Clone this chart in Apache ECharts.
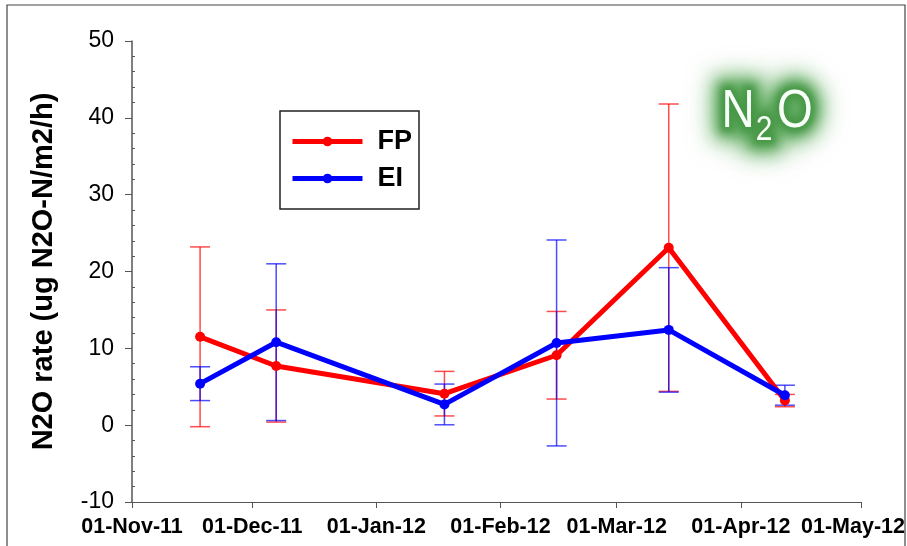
<!DOCTYPE html>
<html>
<head>
<meta charset="utf-8">
<script src="https://cdn.jsdelivr.net/npm/echarts@6/dist/echarts.min.js"></script>
<style>html,body{margin:0;padding:0;background:#fff;}#c{width:907px;height:546px;}</style>
</head>
<body>
<div id="c"></div>
<script>
// ---- data ----
const sampleDates = ['2011-11-18', '2011-12-07', '2012-01-18', '2012-02-15', '2012-03-14', '2012-04-12'];
const fpMean = [11.5, 7.7, 4.1, 9.1, 23.1, 3.2];
const fpErr  = [11.7, 7.3, 2.9, 5.7, 18.7, 0.8];
const eiMean = [5.4, 10.8, 2.7, 10.7, 12.4, 3.9];
const eiErr  = [2.2, 10.2, 2.65, 13.4, 8.1, 1.3];
const xTickLabels = ['01-Nov-11', '01-Dec-11', '01-Jan-12', '01-Feb-12', '01-Mar-12', '01-Apr-12', '01-May-12'];
const yTicks = [-10, 0, 10, 20, 30, 40, 50];

const FONT = 'Liberation Sans, Arial, sans-serif';
const RED = '#ff0000', BLUE = '#0000ff';

function lineData(means) { return sampleDates.map((d, i) => [d, means[i]]); }
function errData(means, errs) { return sampleDates.map((d, i) => [d, means[i] - errs[i], means[i] + errs[i]]); }

function errRender(color) {
  return function (params, api) {
    const x = api.value(0);
    const lo = api.coord([x, api.value(1)]);
    const hi = api.coord([x, api.value(2)]);
    const w = 10;
    const st = { stroke: color, lineWidth: 1.5, opacity: 0.7 };
    return {
      type: 'group',
      children: [
        { type: 'line', shape: { x1: hi[0], y1: hi[1], x2: lo[0], y2: lo[1] }, style: st },
        { type: 'line', shape: { x1: hi[0] - w, y1: hi[1], x2: hi[0] + w, y2: hi[1] }, style: st },
        { type: 'line', shape: { x1: lo[0] - w, y1: lo[1], x2: lo[0] + w, y2: lo[1] }, style: st }
      ]
    };
  };
}

const chart = echarts.init(document.getElementById('c'), null, { renderer: 'canvas' });

// soft glow: text drawn far off-canvas, only its blurred shadow lands on the title spot
const SHIFT = 2000;
function n2oGlow(txt, x, y, size, color, lw, blur) {
  return {
    type: 'text', x: x - SHIFT, y: y, scaleY: 1.15, silent: true,
    style: {
      text: txt, font: size + 'px ' + FONT, textAlign: 'center', textVerticalAlign: 'middle',
      fill: color, stroke: color, lineWidth: lw, lineJoin: 'round',
      textShadowBlur: blur, textShadowColor: color, textShadowOffsetX: SHIFT, textShadowOffsetY: 0
    }
  };
}
function n2oText(txt, x, y, size) {
  return {
    type: 'text', x: x, y: y, scaleY: 1.15, silent: true,
    style: { text: txt, font: size + 'px ' + FONT, textAlign: 'center', textVerticalAlign: 'middle', fill: '#f8fff8' }
  };
}
const n2oParts = [['N', 738, 112, 46], ['2', 764, 130, 30], ['O', 795, 112, 46]];
const glowLayers = [
  ['rgba(95,175,95,0.85)', 26, 24],
  ['rgba(80,160,80,0.9)', 16, 14],
  ['rgba(70,150,70,0.9)', 8, 6]
];
const glowEls = [];
glowLayers.forEach(g => n2oParts.forEach(p => glowEls.push(n2oGlow(p[0], p[1], p[2], p[3], g[0], g[1], g[2]))));
n2oParts.forEach(p => glowEls.push(n2oText(p[0], p[1], p[2], p[3])));

chart.setOption({
  animation: false,
  backgroundColor: '#ffffff',
  grid: { left: 132, top: 41, right: 46, bottom: 44, containLabel: false, outerBoundsMode: 'none' },
  xAxis: {
    type: 'time',
    min: '2011-11-01',
    max: '2012-05-01',
    splitNumber: 6,
    axisLine: { onZero: false, lineStyle: { color: '#555', width: 1.2 } },
    axisTick: { show: true, length: 6, lineStyle: { color: '#555' } },
    splitLine: { show: false },
    axisLabel: {
      margin: 14,
      color: '#000',
      fontFamily: FONT,
      fontWeight: 'bold',
      fontSize: 21.5,
      showMinLabel: true,
      showMaxLabel: true,
      hideOverlap: false,
      rich: {
        last: { fontFamily: FONT, fontWeight: 'bold', fontSize: 21.5, color: '#000', padding: [0, 16, 0, 0] }
      },
      formatter: function (v) {
        const d = new Date(v);
        const idx = (d.getFullYear() - 2011) * 12 + d.getMonth() - 10;
        const s = xTickLabels[idx] || '';
        return idx === xTickLabels.length - 1 ? '{last|' + s + '}' : s;
      }
    }
  },
  yAxis: [
    {
      type: 'value', position: 'left',
      min: yTicks[0], max: yTicks[yTicks.length - 1], interval: 10,
      name: 'N2O rate (ug N2O-N/m2/h)',
      nameLocation: 'middle',
      nameGap: 74,
      nameRotate: 90,
      nameTextStyle: { color: '#000', fontFamily: FONT, fontWeight: 'bold', fontSize: 29 },
      axisLine: { show: true, lineStyle: { color: '#555', width: 1.5 } },
      axisTick: { show: true, length: 7, lineStyle: { color: '#555' } },
      splitLine: { show: false },
      axisLabel: { margin: 18, color: '#000', fontFamily: FONT, fontSize: 23 }
    },
    {
      type: 'value', position: 'left', offset: 0,
      min: yTicks[0], max: yTicks[yTicks.length - 1], interval: 10,
      axisLine: { show: false },
      axisTick: { show: false, inside: true },
      minorTick: { show: true, splitNumber: 5, length: 3, lineStyle: { color: '#555' } },
      axisLabel: { show: false },
      splitLine: { show: false }
    }
  ],
  legend: {
    left: 280, top: 111,
    orient: 'vertical',
    data: ['FP', 'EI'],
    itemWidth: 70, itemHeight: 12,
    itemGap: 10,
    padding: [17, 7, 17, 10],
    borderColor: '#222', borderWidth: 1.5,
    backgroundColor: '#fff',
    lineStyle: { width: 5 },
    textStyle: { color: '#000', fontFamily: FONT, fontWeight: 'bold', fontSize: 27, padding: [0, 0, 0, 10] }
  },
  graphic: [
    { type: 'rect', shape: { x: 7, y: 5, width: 898, height: 600 }, style: { fill: 'none', stroke: '#444', lineWidth: 1.2 }, silent: true }
  ].concat(glowEls),
  series: [
    {
      type: 'custom', name: 'FP err', renderItem: errRender(RED),
      data: errData(fpMean, fpErr), encode: { x: 0, y: [1, 2] }, z: 1, silent: true
    },
    {
      type: 'custom', name: 'EI err', renderItem: errRender(BLUE),
      data: errData(eiMean, eiErr), encode: { x: 0, y: [1, 2] }, z: 1, silent: true
    },
    {
      type: 'line', name: 'FP', data: lineData(fpMean),
      symbol: 'circle', symbolSize: 10, showAllSymbol: true,
      lineStyle: { color: RED, width: 5 }, itemStyle: { color: RED }, z: 3
    },
    {
      type: 'line', name: 'EI', data: lineData(eiMean),
      symbol: 'circle', symbolSize: 10, showAllSymbol: true,
      lineStyle: { color: BLUE, width: 5 }, itemStyle: { color: BLUE }, z: 4
    }
  ]
});
</script>
</body>
</html>
